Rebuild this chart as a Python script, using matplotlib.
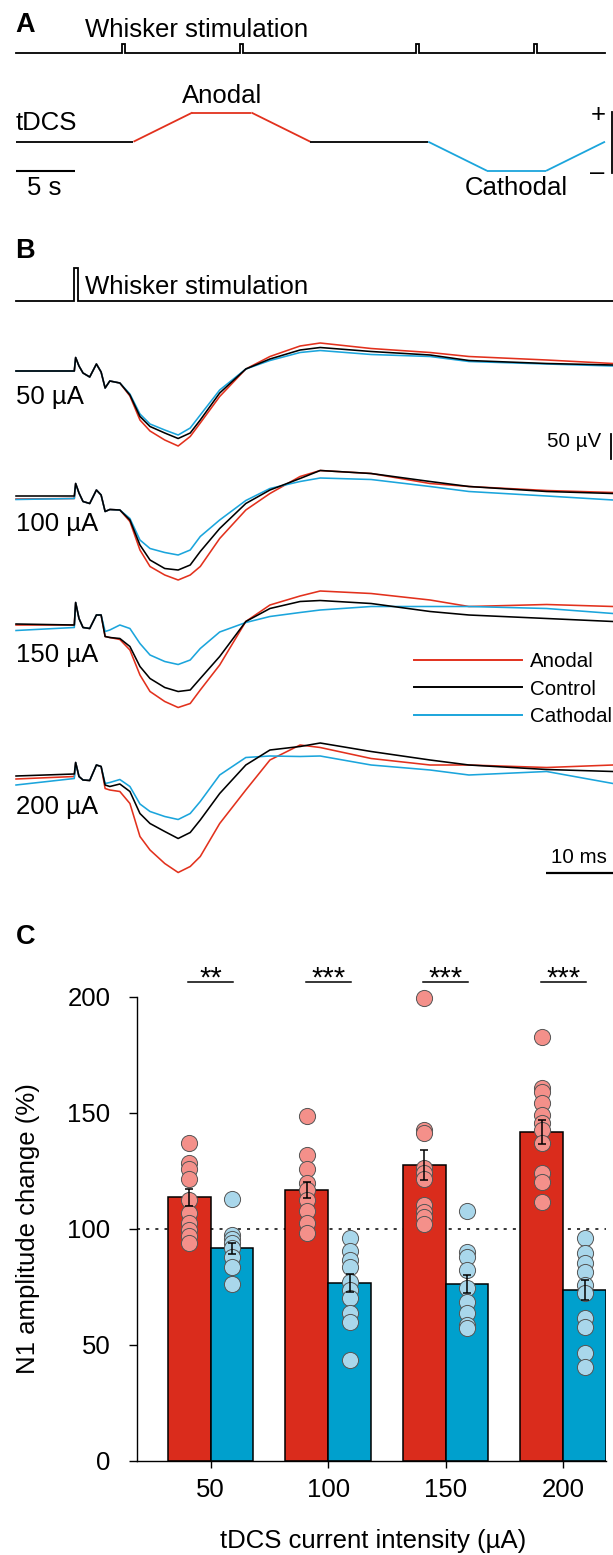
import numpy as np
import matplotlib
matplotlib.use('Agg')
import matplotlib.pyplot as plt
from matplotlib.lines import Line2D

plt.rcParams['font.family'] = ['Liberation Sans', 'DejaVu Sans']

W, H = 613, 1555
DPI = 100
FS = 18.5
FS_SMALL = 14.8
FS_LETTER = 19.5

RED_LINE = '#E2311D'
BLUE_LINE = '#1BA5DC'
RED_BAR = '#DA2C1C'
BLUE_BAR = '#00A0CD'
RED_PT = '#F4908A'
BLUE_PT = '#A9D7EB'

# ---------------- Panel A data (seconds) ----------------
whisker_pulse_times_A = [9, 19, 34, 44]
whisker_pulse_width_A = 0.25
tdcs_times = [0, 10, 15, 20, 25, 35, 40, 45, 50]
tdcs_levels = [0, 0, 1, 1, 0, 0, -1, -1, 0]
tdcs_segment_kind = ['off', 'anodal', 'anodal', 'anodal', 'off', 'cathodal', 'cathodal', 'cathodal']

# ---------------- Panel B data (ms, µV) ----------------
t_ms = [-8.7, 0.0, 0.2, 0.7, 1.3, 2.3, 3.3, 4.0, 4.6, 5.3, 6.8, 8.3, 9.8, 11.3,
        13.5, 15.5, 17.3, 18.8, 21.7, 25.6, 29.2, 33.7, 36.7, 44.3, 53.1, 58.9, 70.5, 80.4]
intensities_B = ['50 µA', '100 µA', '150 µA', '200 µA']
trace_offsets = [0, -252, -508, -816]

control_50 = [0, 0, 27, 10, -4, -12, 14, -2, -34, -20, -24, -48, -91, -111,
              -124, -135, -124, -98, -44, 4, 24, 42, 47, 39, 32, 21, 15, 12]
anodal_50 = [0, 0, 27, 10, -4, -12, 14, -2, -34, -20, -24, -50, -98, -120,
             -138, -150, -131, -104, -51, 4, 29, 50, 56, 45, 37, 29, 22, 15]
cathodal_50 = [0, 0, 27, 10, -4, -12, 14, -2, -34, -20, -24, -46, -86, -106,
               -118, -128, -114, -88, -38, 4, 21, 37, 41, 33, 29, 19, 14, 10]

control_100 = [2, 2, 27, 8, -9, -13, 14, 4, -29, -25, -26, -46, -96, -126,
               -143, -146, -136, -109, -63, -13, 14, 37, 53, 47, 31, 21, 11, 7]
anodal_100 = [-4, -3, 27, 8, -9, -13, 14, 4, -29, -25, -26, -49, -106, -139,
              -156, -166, -156, -139, -83, -26, 7, 41, 53, 47, 27, 21, 13, 9]
cathodal_100 = [-5, -3, 27, 8, -9, -13, 14, 4, -29, -25, -26, -43, -86, -103,
                -111, -116, -106, -79, -46, -7, 17, 31, 38, 35, 21, 11, 2, -6]

control_150 = [2, 0, 45, 13, -5, -7, 20, 20, -23, -25, -27, -43, -83, -107,
               -125, -133, -130, -107, -63, 7, 33, 47, 49, 43, 27, 20, 13, 7]
anodal_150 = [0, 0, 45, 13, -5, -7, 20, 20, -23, -25, -29, -50, -100, -133,
              -153, -165, -157, -130, -80, 7, 40, 58, 68, 63, 50, 37, 41, 37]
cathodal_150 = [-11, -5, 45, 13, -5, -7, 20, 20, -13, -10, 0, -7, -37, -60,
                -73, -79, -70, -47, -14, 5, 17, 25, 30, 37, 37, 37, 33, 23]

control_200 = [6, 10, 33, 5, -2, -3, 28, 25, -12, -15, -10, -25, -69, -89,
               -105, -119, -107, -82, -29, 28, 58, 65, 72, 55, 38, 28, 19, 15]
anodal_200 = [0, 5, 33, 5, -2, -3, 28, 25, -19, -22, -25, -49, -115, -142,
              -169, -187, -175, -155, -89, -22, 38, 68, 63, 41, 28, 28, 23, 28]
cathodal_200 = [-12, 1, 33, 5, -2, -3, 28, 25, -9, -7, -1, -15, -50, -65,
                -75, -81, -69, -45, 8, 43, 46, 45, 46, 28, 18, 8, 15, -9]

anodal_traces = [anodal_50, anodal_100, anodal_150, anodal_200]
control_traces = [control_50, control_100, control_150, control_200]
cathodal_traces = [cathodal_50, cathodal_100, cathodal_150, cathodal_200]

whisker_pulse_B = [0.0]
whisker_pulse_width_B = 0.58

# ---------------- Panel C data (%) ----------------
groups_C = ['50', '100', '150', '200']
anodal_mean = [113.7, 116.8, 127.6, 141.8]
anodal_sem = [3.6, 3.3, 6.4, 5.2]
cathodal_mean = [91.7, 76.7, 76.2, 73.6]
cathodal_sem = [2.3, 3.7, 4.0, 4.3]
anodal_points = [
    [137.2, 128.3, 125.7, 121.4, 112.5, 106.8, 102.4, 99.6, 97.0, 93.8],
    [148.8, 131.9, 125.7, 119.7, 116.8, 112.5, 107.9, 102.4, 98.1],
    [199.4, 142.7, 141.2, 126.2, 124.0, 121.4, 110.3, 107.5, 105.3, 102.2],
    [182.6, 160.6, 159.2, 154.2, 149.1, 145.5, 142.7, 136.9, 124.0, 120.4, 111.8],
]
cathodal_points = [
    [112.9, 97.4, 95.5, 93.8, 91.7, 88.1, 83.8, 76.2],
    [96.0, 90.5, 86.6, 83.8, 77.3, 73.7, 70.1, 63.7, 60.0, 43.5],
    [107.8, 90.2, 88.1, 82.3, 74.4, 68.7, 63.7, 58.6, 57.2],
    [96.0, 89.5, 85.5, 81.6, 75.9, 72.3, 61.5, 57.9, 46.4, 40.4],
]
significance = ['**', '***', '***', '***']

# ---------------- helpers ----------------
fig = plt.figure(figsize=(W / DPI, H / DPI), dpi=DPI)


def px_axes(x0, y0, x1, y1):
    ax = fig.add_axes([x0 / W, 1 - y1 / H, (x1 - x0) / W, (y1 - y0) / H])
    return ax


def ftext(x, y, s, **kw):
    kw.setdefault('fontsize', FS)
    return fig.text(x / W, 1 - y / H, s, **kw)


def pulse_train(starts, width, t0, t1):
    xs, ys = [t0], [0]
    for s in starts:
        xs += [s, s, s + width, s + width]
        ys += [0, 1, 1, 0]
    xs.append(t1)
    ys.append(0)
    return xs, ys


# ================= Panel A =================
axAw = px_axes(15.6, 40, 605, 58)
axAw.set_xlim(0, 50)
axAw.set_ylim(-(58 - 53.3) / 9, (53.3 - 40) / 9)
axAw.axis('off')
xs, ys = pulse_train(whisker_pulse_times_A, whisker_pulse_width_A, tdcs_times[0], tdcs_times[-1])
axAw.plot(xs, ys, color='black', lw=1.3, solid_joinstyle='miter', clip_on=False)

axAt = px_axes(15.6, 80, 605, 200)
axAt.set_xlim(0, 50)
axAt.set_ylim((141.7 - 200) / 29.15, (141.7 - 80) / 29.15)
axAt.axis('off')
kind_color = {'off': 'black', 'anodal': RED_LINE, 'cathodal': BLUE_LINE}
for i, kind in enumerate(tdcs_segment_kind):
    axAt.plot(tdcs_times[i:i + 2], tdcs_levels[i:i + 2], color=kind_color[kind], lw=1.3,
              solid_capstyle='butt', clip_on=False)
axAt.plot([0, 5], [-1.02, -1.02], color='black', lw=1.5, solid_capstyle='butt', clip_on=False)
axAt.plot([50.6, 50.6], [-1.06, 1.03], color='black', lw=1.3, clip_on=False)

ftext(15.6, 32, 'A', fontsize=FS_LETTER, fontweight='bold', ha='left', va='baseline')
ftext(85, 36.7, 'Whisker stimulation', ha='left', va='baseline')
ftext(182, 103.3, 'Anodal', ha='left', va='baseline')
ftext(15.6, 130, 'tDCS', ha='left', va='baseline')
ftext(27, 195, '5 s', ha='left', va='baseline')
ftext(465, 195, 'Cathodal', ha='left', va='baseline')
ftext(598, 121.5, '+', ha='center', va='baseline')
ftext(597, 180, '–', ha='center', va='baseline')

# ================= Panel B =================
T0 = (15.6 - 74.3) / 6.7
T1 = (613 - 74.3) / 6.7
axBw = px_axes(15.6, 260, 613, 310)
axBw.set_xlim(T0, T1)
axBw.set_ylim(-(310 - 301) / 33, (301 - 260) / 33)
axBw.axis('off')
xs, ys = pulse_train(whisker_pulse_B, whisker_pulse_width_B, T0, T1)
axBw.plot(xs, ys, color='black', lw=1.3, solid_joinstyle='miter', clip_on=False)

axB = px_axes(15.6, 320, 613, 895)
axB.set_xlim(T0, T1)
axB.set_ylim((371 - 895) * 2, (371 - 320) * 2)
axB.axis('off')
for k in range(4):
    off = trace_offsets[k]
    axB.plot(t_ms, np.array(anodal_traces[k]) + off, color=RED_LINE, lw=1.15, clip_on=False)
    axB.plot(t_ms, np.array(cathodal_traces[k]) + off, color=BLUE_LINE, lw=1.15, clip_on=False)
    axB.plot(t_ms, np.array(control_traces[k]) + off, color='black', lw=1.15, clip_on=False)

# scale bars
axB.plot([80.1, 80.1], [-125, -176], color='black', lw=1.3, clip_on=False)
axB.plot([70.36, 80.36], [-1003, -1003], color='black', lw=1.6, solid_capstyle='butt', clip_on=False)
ftext(601, 446.7, '50 µV', fontsize=FS_SMALL, ha='right', va='baseline')
ftext(579, 863.3, '10 ms', fontsize=FS_SMALL, ha='center', va='baseline')

label_baselines = [404, 531, 661.7, 814.3]
for lab, yb in zip(intensities_B, label_baselines):
    ftext(15.6, yb, lab, ha='left', va='baseline')

ftext(15.6, 258, 'B', fontsize=FS_LETTER, fontweight='bold', ha='left', va='baseline')
ftext(85, 294.3, 'Whisker stimulation', ha='left', va='baseline')

handles = [Line2D([], [], color=RED_LINE, lw=1.4),
           Line2D([], [], color='black', lw=1.4),
           Line2D([], [], color=BLUE_LINE, lw=1.4)]
axB.legend(handles, ['Anodal', 'Control', 'Cathodal'], loc='upper left',
           bbox_to_anchor=(414 / W, 1 - 652 / H), bbox_transform=fig.transFigure,
           frameon=False, fontsize=FS_SMALL, handlelength=5.23, handletextpad=0.4,
           labelspacing=0.42, borderpad=0, borderaxespad=0)

# ================= Panel C =================
axC = px_axes(137, 997, 606, 1461)
x = np.arange(len(groups_C))
bw = 0.364
axC.set_xlim(-0.627, 3 + bw)
axC.set_ylim(0, 200)

axC.axhline(100, color='black', lw=1.1, ls=(0, (2, 4)), zorder=1)
axC.bar(x - bw / 2, anodal_mean, bw, color=RED_BAR, edgecolor='black', lw=1.1, zorder=2)
axC.bar(x + bw / 2, cathodal_mean, bw, color=BLUE_BAR, edgecolor='black', lw=1.1, zorder=2)
for i in range(len(groups_C)):
    axC.scatter(np.full(len(anodal_points[i]), x[i] - bw / 2), anodal_points[i], s=135,
                color=RED_PT, edgecolor='#555555', linewidth=0.7, zorder=3, clip_on=False)
    axC.scatter(np.full(len(cathodal_points[i]), x[i] + bw / 2), cathodal_points[i], s=135,
                color=BLUE_PT, edgecolor='#555555', linewidth=0.7, zorder=3, clip_on=False)
axC.errorbar(x - bw / 2, anodal_mean, yerr=anodal_sem, fmt='none', ecolor='black',
             elinewidth=1.1, capsize=3, capthick=1.1, zorder=4)
axC.errorbar(x + bw / 2, cathodal_mean, yerr=cathodal_sem, fmt='none', ecolor='black',
             elinewidth=1.1, capsize=3, capthick=1.1, zorder=4)

for i, s in enumerate(significance):
    axC.plot([x[i] - 0.19, x[i] + 0.19], [206.6, 206.6], color='black', lw=1.1, clip_on=False)
    axC.text(x[i], 204.3, s, ha='center', va='baseline', fontsize=21, clip_on=False)

for sp in ['top', 'right']:
    axC.spines[sp].set_visible(False)
axC.spines['left'].set_bounds(0, 200)
axC.spines['left'].set_linewidth(1.0)
axC.spines['bottom'].set_linewidth(1.0)
axC.set_yticks([0, 50, 100, 150, 200])
axC.set_xticks(x)
axC.set_xticklabels(groups_C)
axC.tick_params(axis='y', direction='out', length=5.5, width=1.0, labelsize=FS, pad=13.5)
axC.tick_params(axis='x', direction='out', length=5, width=1.0, labelsize=FS, pad=7)

ftext(15.6, 944, 'C', fontsize=FS_LETTER, fontweight='bold', ha='left', va='baseline')
ftext(28, 1229, 'N1 amplitude change (%)', rotation=90, ha='center', va='center')
ftext(373, 1548, 'tDCS current intensity (µA)', ha='center', va='baseline')

fig.savefig('out.png', dpi=DPI)
